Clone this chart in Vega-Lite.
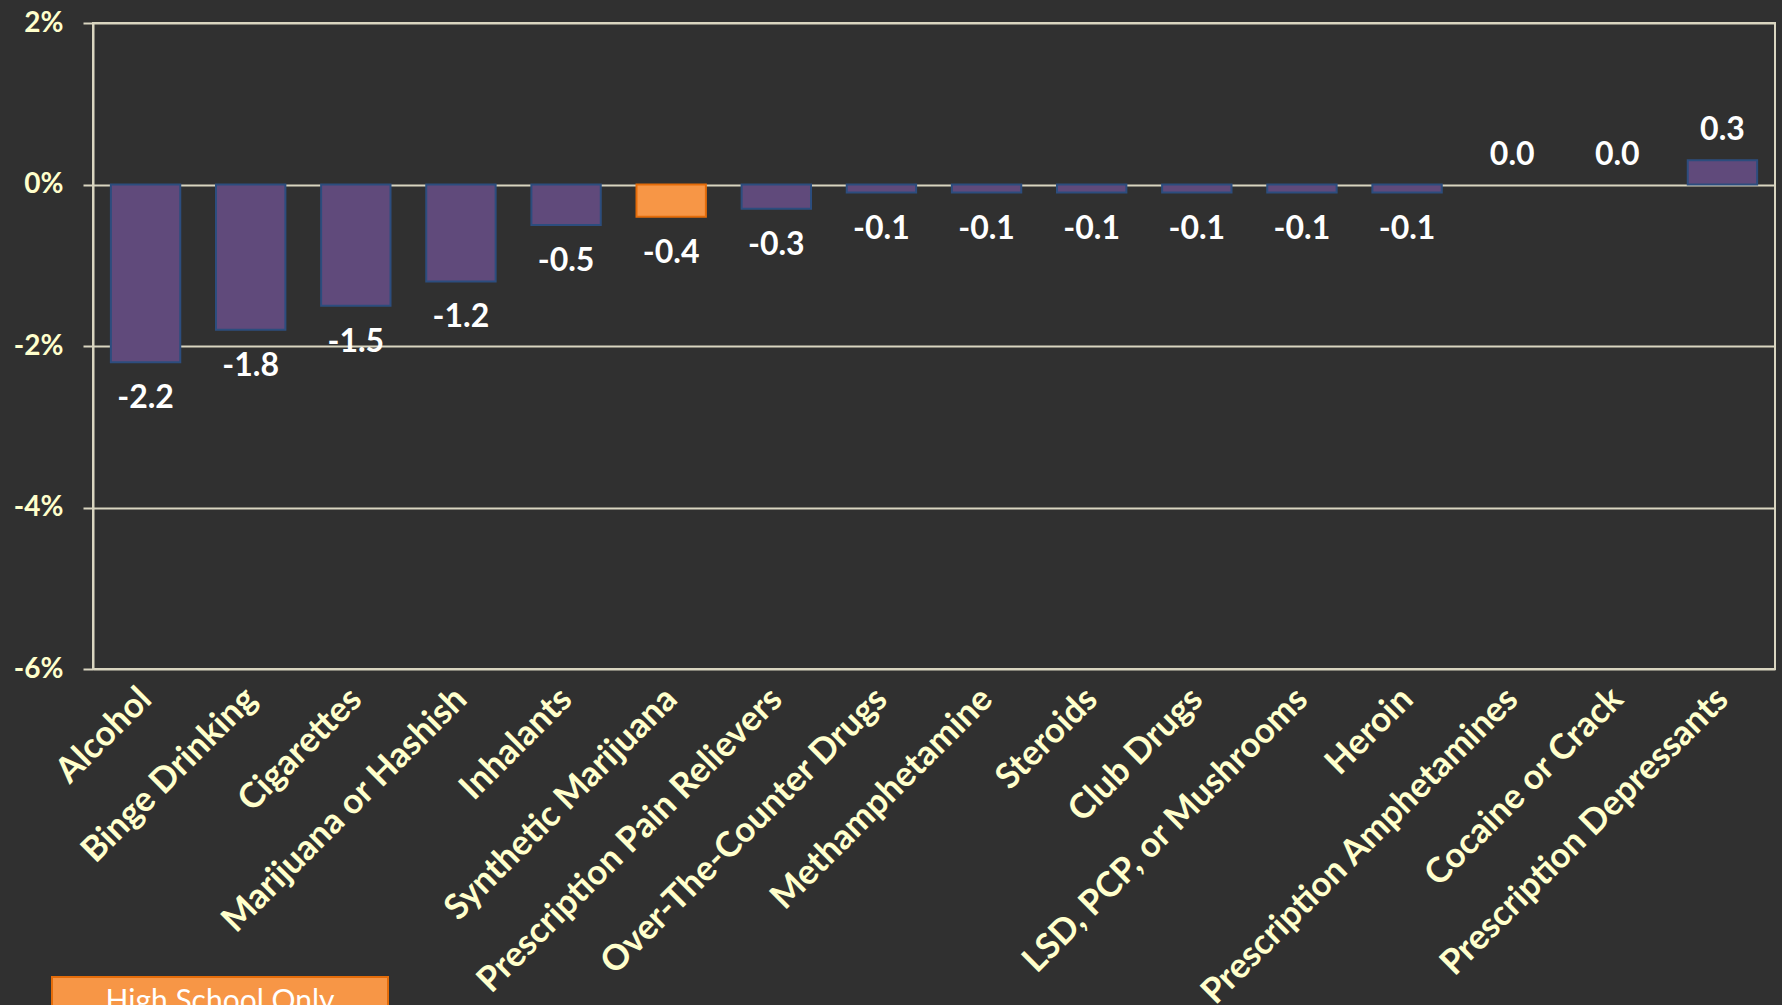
{
  "$schema": "https://vega.github.io/schema/vega-lite/v6.json",
  "width": 1682,
  "height": 646,
  "autosize": {"type": "none"},
  "padding": {"left": 93, "top": 23, "right": 7, "bottom": 336},
  "background": "#303030",
  "config": {
    "view": {"stroke": "#D9D5C0", "strokeWidth": 2},
    "font": "Lato"
  },
  "data": {
    "values": [
      {"drug": "Alcohol", "change": -2.2, "group": "All"},
      {"drug": "Binge Drinking", "change": -1.8, "group": "All"},
      {"drug": "Cigarettes", "change": -1.5, "group": "All"},
      {"drug": "Marijuana or Hashish", "change": -1.2, "group": "All"},
      {"drug": "Inhalants", "change": -0.5, "group": "All"},
      {"drug": "Synthetic Marijuana", "change": -0.4, "group": "High School Only"},
      {"drug": "Prescription Pain Relievers", "change": -0.3, "group": "All"},
      {"drug": "Over-The-Counter Drugs", "change": -0.1, "group": "All"},
      {"drug": "Methamphetamine", "change": -0.1, "group": "All"},
      {"drug": "Steroids", "change": -0.1, "group": "All"},
      {"drug": "Club Drugs", "change": -0.1, "group": "All"},
      {"drug": "LSD, PCP, or Mushrooms", "change": -0.1, "group": "All"},
      {"drug": "Heroin", "change": -0.1, "group": "All"},
      {"drug": "Prescription Amphetamines", "change": 0.0, "group": "All"},
      {"drug": "Cocaine or Crack", "change": 0.0, "group": "All"},
      {"drug": "Prescription Depressants", "change": 0.3, "group": "All"}
    ]
  },
  "encoding": {
    "x": {
      "field": "drug",
      "type": "nominal",
      "sort": null,
      "scale": {"paddingInner": 0.34, "paddingOuter": 0.17},
      "axis": {
        "title": null,
        "domain": false,
        "ticks": false,
        "labelAngle": -45,
        "labelAlign": "right",
        "labelBaseline": "middle",
        "labelPadding": 24,
        "labelFont": "Lato",
        "labelFontSize": 35,
        "labelFontWeight": "bold",
        "labelColor": "#FFFFCC",
        "labelLimit": 700
      }
    },
    "y": {
      "field": "change",
      "type": "quantitative",
      "scale": {"domain": [-6, 2], "nice": false},
      "axis": {
        "title": null,
        "values": [-6, -4, -2, 0, 2],
        "labelExpr": "datum.value + '%'",
        "domain": true,
        "domainColor": "#D9D5C0",
        "domainWidth": 2,
        "grid": true,
        "gridColor": "#D9D5C0",
        "gridWidth": 2,
        "gridOpacity": 1,
        "ticks": true,
        "tickSize": 10,
        "tickColor": "#D9D5C0",
        "tickWidth": 2,
        "labelPadding": 20,
        "labelFont": "Lato",
        "labelFontSize": 28,
        "labelFontWeight": "bold",
        "labelColor": "#FFFFCC"
      }
    }
  },
  "layer": [
    {
      "mark": {"type": "bar", "strokeWidth": 2, "opacity": 1},
      "encoding": {
        "color": {
          "field": "group",
          "type": "nominal",
          "scale": {"domain": ["All", "High School Only"], "range": ["#604A7B", "#F79646"]},
          "legend": {
            "values": ["High School Only"],
            "title": null,
            "orient": "none",
            "legendX": -42,
            "legendY": 810,
            "padding": 0,
            "symbolType": "M-1,-0.149H1V0.149H-1Z",
            "symbolSize": 112896,
            "symbolStrokeColor": "#E46C0A",
            "symbolStrokeWidth": 2,
            "symbolOpacity": 1,
            "labelAlign": "center",
            "labelOffset": -169,
            "labelColor": "#FFFFFF",
            "labelFont": "Lato",
            "labelFontSize": 30,
            "labelFontWeight": "normal",
            "labelLimit": 600
          }
        },
        "stroke": {
          "condition": {"test": "datum.group === 'High School Only'", "value": "#E46C0A"},
          "value": "#2C4D7E"
        },
        "strokeOpacity": {
          "condition": {"test": "datum.change === 0", "value": 0},
          "value": 1
        }
      }
    },
    {
      "mark": {
        "type": "text",
        "font": "Lato",
        "fontSize": 32,
        "fontWeight": "bold",
        "color": "#FFFFFF",
        "baseline": "middle",
        "dy": {"expr": "datum.change < 0 ? 36 : -30"},
        "text": {"expr": "replace(format(datum.change, '.1f'), '\u2212', '-')"}
      },
      "encoding": {}
    }
  ]
}
